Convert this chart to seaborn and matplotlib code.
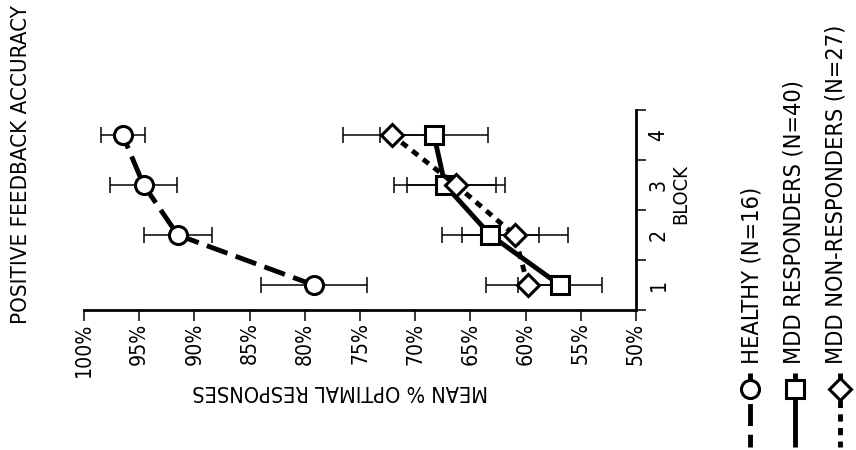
import numpy as np
import pandas as pd
import matplotlib

matplotlib.use("Agg")
import matplotlib.pyplot as plt
import seaborn as sns
from matplotlib import font_manager

blocks = [1, 2, 3, 4]
groups = ["HEALTHY (N=16)", "MDD RESPONDERS (N=40)", "MDD NON-RESPONDERS (N=27)"]
healthy_mean = [79.2, 91.5, 94.6, 96.5]
healthy_err = [4.8, 3.1, 3.0, 2.0]
responders_mean = [56.9, 63.2, 67.3, 68.3]
responders_err = [3.8, 4.4, 4.6, 4.9]
nonresponders_mean = [59.8, 61.0, 66.3, 72.1]
nonresponders_err = [3.8, 4.8, 4.4, 4.4]
accuracy_ticks = [100, 95, 90, 85, 80, 75, 70, 65, 60, 55, 50]

markers = {groups[0]: "o", groups[1]: "s", groups[2]: "D"}
marker_sizes = {"o": 13, "s": 12.5, "D": 11.5}
dashes = {groups[0]: (4.5, 1.8), groups[1]: "", groups[2]: (1.5, 1.3)}

sns.set_style("white")
available = {f.name for f in font_manager.fontManager.ttflist}
narrow = "Liberation Sans Narrow" in available
plt.rcParams["font.family"] = ["Liberation Sans Narrow" if narrow else "DejaVu Sans", "DejaVu Sans"]
plt.rcParams["font.stretch"] = "normal" if narrow else "condensed"
for key in ["text.color", "axes.labelcolor", "xtick.color", "ytick.color"]:
    plt.rcParams[key] = "black"
k = 1.0 if narrow else 0.8

df = pd.DataFrame({
    "block": blocks * 3,
    "accuracy": healthy_mean + responders_mean + nonresponders_mean,
    "err": healthy_err + responders_err + nonresponders_err,
    "group": np.repeat(groups, len(blocks)),
})

fig = plt.figure(figsize=(8.56, 4.5), dpi=100)
ax = fig.add_axes([84 / 856, 140 / 450, 552 / 856, 200 / 450])

# error bars under the lines
for g in groups:
    sub = df[df["group"] == g]
    ax.errorbar(sub["accuracy"], sub["block"], xerr=sub["err"], fmt="none",
                ecolor="black", elinewidth=1.1, capsize=5.5, capthick=1.1, zorder=2)

sns.lineplot(data=df, x="accuracy", y="block", hue="group", style="group",
             hue_order=groups, style_order=groups,
             palette={g: "black" for g in groups}, markers=markers, dashes=dashes,
             orient="y", estimator=None, linewidth=3.5, markersize=12,
             markerfacecolor="white", markeredgecolor="black", markeredgewidth=2.2,
             legend=False, ax=ax, zorder=3)
for ln in ax.get_lines():
    if ln.get_marker() in marker_sizes:
        ln.set_markersize(marker_sizes[ln.get_marker()])

ax.set_xlim(100, 50)
ax.set_ylim(0.5, 4.5)
for side in ["top", "left"]:
    ax.spines[side].set_visible(False)
for side in ["bottom", "right"]:
    ax.spines[side].set_linewidth(2)
    ax.spines[side].set_color("black")

ax.set_xticks(accuracy_ticks)
ax.set_xticklabels([f"{v}%" for v in accuracy_ticks], rotation=90)
ax.tick_params(axis="x", direction="out", length=8, width=1.1, pad=1,
               labelsize=19 * k, colors="black", bottom=True)

ax.yaxis.tick_right()
ax.yaxis.set_label_position("right")
ax.set_yticks([b - 0.5 for b in blocks] + [blocks[-1] + 0.5])
ax.set_yticklabels([])
ax.set_yticks(blocks, minor=True)
ax.set_yticklabels([str(b) for b in blocks], minor=True, rotation=90, va="center")
ax.tick_params(axis="y", which="major", direction="out", length=7.5, width=1.1,
               right=True, left=False, colors="black")
ax.tick_params(axis="y", which="minor", length=0, pad=9, labelsize=19 * k,
               right=True, left=False, colors="black")

ax.set_ylabel("BLOCK", rotation=90, fontsize=18 * k, va="center", ha="center")
ax.yaxis.set_label_coords((681 - 84) / 552, (310 - 194) / 200)
ax.set_xlabel("MEAN % OPTIMAL RESPONSES", rotation=180, fontsize=19.5 * k,
              va="center", ha="center")
ax.xaxis.set_label_coords((340 - 84) / 552, (310 - 391) / 200)

fig.text(21 / 856, 1 - 165 / 450, "POSITIVE FEEDBACK ACCURACY", rotation=90,
         ha="center", va="center", fontsize=20 * k)

# legend, drawn rotated like the rest of the figure
lax = fig.add_axes([720 / 856, 0, 136 / 856, 1])
lax.set_xlim(720, 856)
lax.set_ylim(450, 0)
lax.axis("off")
line_x = [750, 795, 840]
text_x = [752, 794, 836]
for g, lx, tx in zip(groups, line_x, text_x):
    seg, = lax.plot([lx, lx], [373, 447], color="black", lw=3.5, solid_capstyle="butt")
    if dashes[g]:
        seg.set_dashes(dashes[g])
    m = markers[g]
    lax.plot([lx], [389], marker=m, ms=marker_sizes[m], mfc="white", mec="black",
             mew=2.2, ls="none")
    lax.text(tx, 364, g, rotation=90, ha="center", va="bottom", fontsize=21 * k)

fig.savefig("out.png", dpi=100)
